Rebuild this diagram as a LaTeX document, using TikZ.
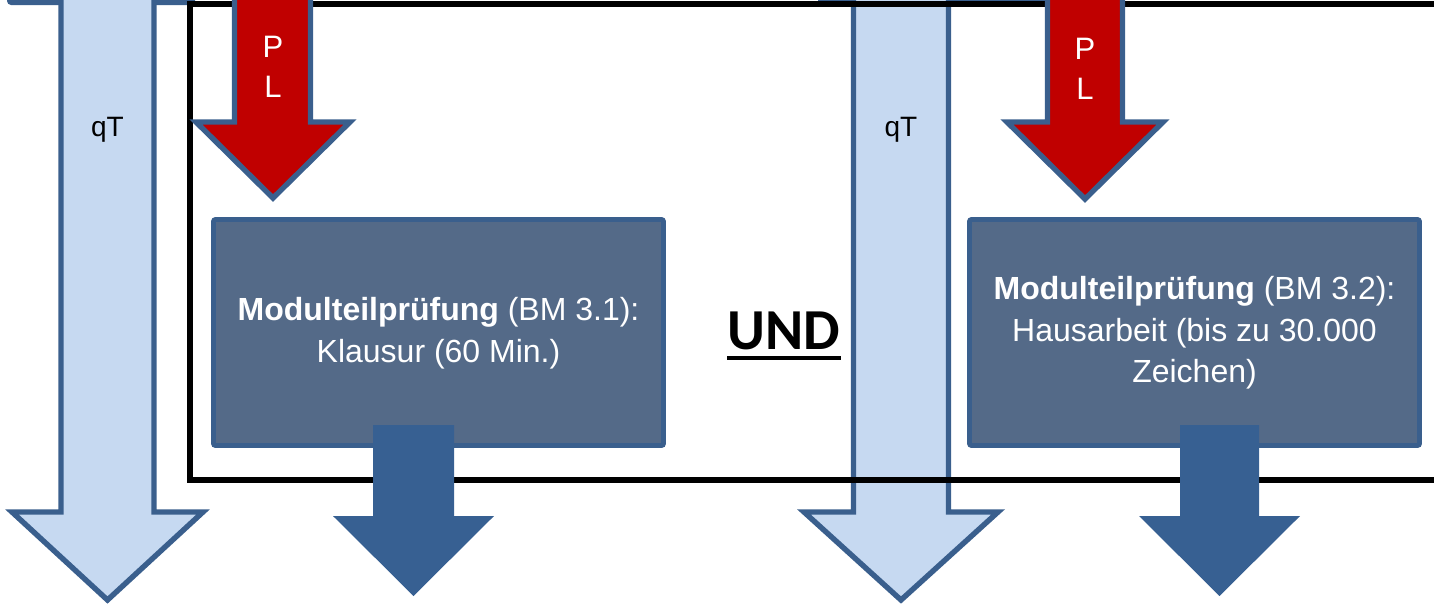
\documentclass[tikz,border=0pt]{standalone}
\usepackage{fontspec}
\setmainfont{Liberation Sans}
\newfontfamily\undfont{Carlito}
\definecolor{lblue}{HTML}{C6D9F1}
\definecolor{bordblue}{HTML}{3A5F8D}
\definecolor{pred}{HTML}{C00000}
\definecolor{boxfill}{HTML}{546A88}
\definecolor{darrow}{HTML}{376092}
\tikzset{
  lightarrow/.style={fill=lblue, draw=bordblue, line width=2.7pt, line join=miter},
  redarrow/.style={fill=pred, draw=bordblue, line width=2.7pt, line join=miter},
  darkarrow/.style={fill=darrow, draw=none},
  mtpbox/.style={fill=boxfill, draw=bordblue, line width=2.4pt, rounded corners=1pt},
  frameline/.style={draw=black, line width=2.8pt},
  boxtext/.style={text=white, align=center, inner sep=0pt, font=\fontsize{16pt}{20.75pt}\selectfont},
  qtlabel/.style={text=black, inner sep=0pt, font=\fontsize{14pt}{17pt}\selectfont},
  pllabel/.style={text=white, align=center, inner sep=0pt, font=\fontsize{15.5pt}{20pt}\selectfont},
}
\begin{document}
\begin{tikzpicture}[x=0.5pt,y=-0.5pt]
\useasboundingbox (0,0) rectangle (1434,607);
% partial boxes above (bottom edges only visible)
\fill[bordblue, rounded corners=2pt] (7,-20) rectangle (195,5);
\fill[bordblue] (818,-20) rectangle (1125,3);
% light blue qT arrows
\draw[lightarrow] (61,-30) -- (61,512) -- (12,512) -- (107.5,600) -- (203,512) -- (154,512) -- (154,-30) -- cycle;
\draw[lightarrow] (853.5,-30) -- (853.5,512) -- (804,512) -- (901,600) -- (998,512) -- (948.5,512) -- (948.5,-30) -- cycle;
% frame
\draw[frameline] (1460,4) -- (190,4) -- (190,480) -- (1460,480);
% boxes
\draw[mtpbox] (213.5,219.5) rectangle (663.5,445.5);
\draw[mtpbox] (969.5,219.5) rectangle (1419.5,445.5);
% red PL arrows
\draw[redarrow] (234.5,-20) -- (234.5,122) -- (196,122) -- (273,198) -- (350,122) -- (310.5,122) -- (310.5,-20) -- cycle;
\draw[redarrow] (1047.5,-20) -- (1047.5,122) -- (1007,122) -- (1085,199) -- (1163,122) -- (1122.5,122) -- (1122.5,-20) -- cycle;
% dark output arrows
\fill[darkarrow] (373,425) -- (373,516) -- (333,516) -- (413.5,596) -- (494,516) -- (454,516) -- (454,425) -- cycle;
\fill[darkarrow] (1180,425) -- (1180,516) -- (1139,516) -- (1219.5,596) -- (1300,516) -- (1259,516) -- (1259,425) -- cycle;
% texts
\node[qtlabel] (qt1) at (107.5,130) {qT};
\node[qtlabel] (qt2) at (901,130) {qT};
\node[pllabel] (pl1) at (273,67) {P\\L};
\node[pllabel] (pl2) at (1085,69) {P\\L};
\node[boxtext] (t1) at (438.5,333) {\textbf{Modulteilprüfung} (BM 3.1):\\Klausur (60 Min.)};
\node[boxtext] (t2) at (1194.5,333) {\textbf{Modulteilprüfung} (BM 3.2):\\Hausarbeit (bis zu 30.000\\Zeichen)};
\node[inner sep=0pt, anchor=base, font=\undfont\bfseries\fontsize{29pt}{34pt}\selectfont] (und) at (784,349) {UND};
\draw[line width=2pt] ([yshift=-4.5pt]und.base west) -- ([yshift=-4.5pt]und.base east);
\end{tikzpicture}
\end{document}
